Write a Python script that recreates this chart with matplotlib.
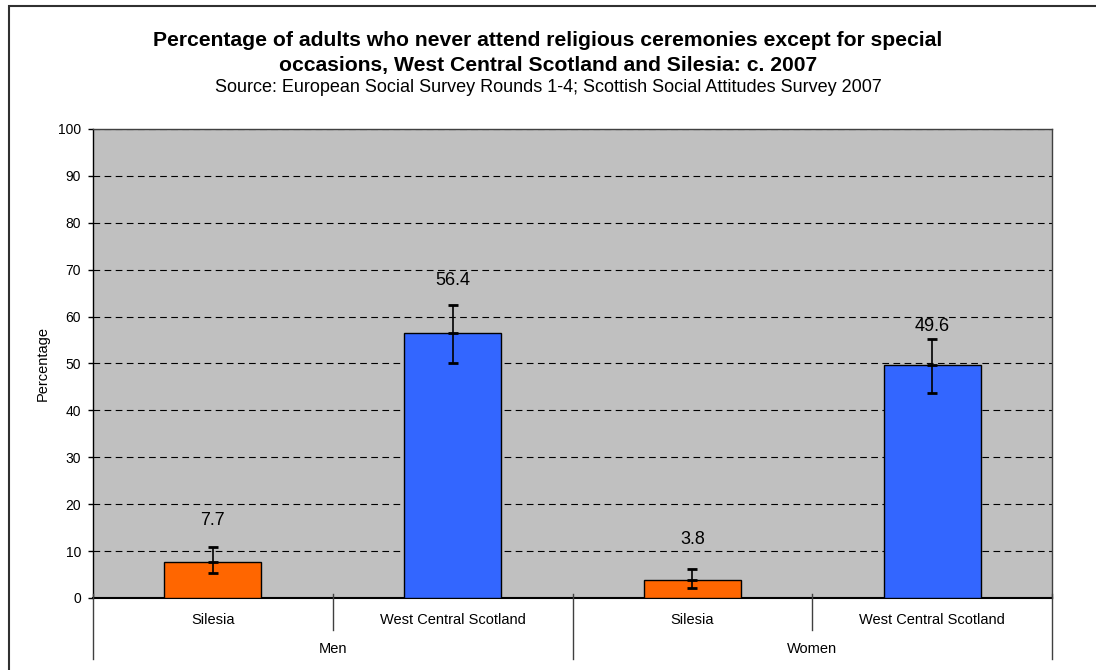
import matplotlib.pyplot as plt
from matplotlib.patches import Rectangle
import matplotlib.transforms as mtransforms

plt.rcParams['font.family'] = ['Liberation Sans', 'DejaVu Sans']

# data
groups = ['Men', 'Women']
areas = ['Silesia', 'West Central Scotland']
values = [7.7, 56.4, 3.8, 49.6]
err_low = [5.3, 50.0, 2.1, 43.8]
err_high = [10.8, 62.4, 6.1, 55.3]
bar_colors = ['#FF6600', '#3366FF', '#FF6600', '#3366FF']
yticks = list(range(0, 101, 10))

fig = plt.figure(figsize=(10.96, 6.70), dpi=100)
# outer chart frame (only its top and left edges fall inside the image)
fig.patches.append(Rectangle((8.5 / 1096, -0.05), 1.1, 1.05 - 6.5 / 670,
                             transform=fig.transFigure, fill=False,
                             edgecolor='#303030', linewidth=1.5))

ax = fig.add_axes([0.0849, 0.1075, 0.875, 0.70])
ax.set_facecolor('#C0C0C0')

x = list(range(len(values)))
ax.bar(x, values, width=0.405, color=bar_colors, edgecolor='black', linewidth=1.0, zorder=3)

lower = [v - lo for v, lo in zip(values, err_low)]
upper = [hi - v for v, hi in zip(values, err_high)]
ax.errorbar(x, values, yerr=[lower, upper], fmt='_', color='black', markersize=7.5,
            markeredgewidth=2, ecolor='black', elinewidth=1.2, capsize=3.7, capthick=2, zorder=4)

# value labels (offsets in points above the bar value)
label_offsets = [29.5, 37.8, 29.5, 27.9]
for xi, v, off in zip(x, values, label_offsets):
    ax.annotate(f'{v:.1f}', (xi, v), xytext=(0, off), textcoords='offset points',
                ha='center', va='center', fontsize=13, zorder=5)

ax.set_xlim(-0.5, len(values) - 0.5)
ax.set_ylim(0, 100)
ax.set_yticks(yticks)
ax.tick_params(axis='y', labelsize=10, length=3.7, width=1.0, direction='out', pad=5)
ax.yaxis.grid(True, linestyle=(0, (6, 4)), color='black', linewidth=0.8, zorder=1)
ax.set_ylabel('Percentage', fontsize=10.5, labelpad=6)
for s in ax.spines.values():
    s.set_color('#404040')
    s.set_linewidth(1.0)
ax.spines['left'].set_color('black')
ax.spines['bottom'].set_color('black')
ax.spines['bottom'].set_linewidth(1.5)

# hierarchical category axis
ax.set_xticks([])
trans = mtransforms.blended_transform_factory(ax.transData, ax.transAxes)
n_areas = len(areas)
for i in range(len(values)):
    ax.text(i, -0.047, areas[i % n_areas], transform=trans, ha='center', va='center',
            fontsize=10.5, clip_on=False)
for g, name in enumerate(groups):
    ax.text(g * n_areas + (n_areas - 1) / 2, -0.109, name, transform=trans,
            ha='center', va='center', fontsize=10.5, clip_on=False)
for b in range(len(values) + 1):
    pos = b - 0.5
    y_end = -0.13 if b % n_areas == 0 else -0.068
    ax.plot([pos, pos], [0.008, y_end], transform=trans, color='#404040',
            linewidth=1.0, clip_on=False, zorder=6)

fig.text(0.5, 1 - 40 / 670, 'Percentage of adults who never attend religious ceremonies except for special',
         ha='center', va='center', fontsize=15.2, fontweight='bold')
fig.text(0.5, 1 - 65 / 670, 'occasions, West Central Scotland and Silesia: c. 2007',
         ha='center', va='center', fontsize=15.2, fontweight='bold')
fig.text(0.5, 1 - 88 / 670, 'Source: European Social Survey Rounds 1-4; Scottish Social Attitudes Survey 2007',
         ha='center', va='center', fontsize=13)

fig.savefig('out.png', dpi=100)
